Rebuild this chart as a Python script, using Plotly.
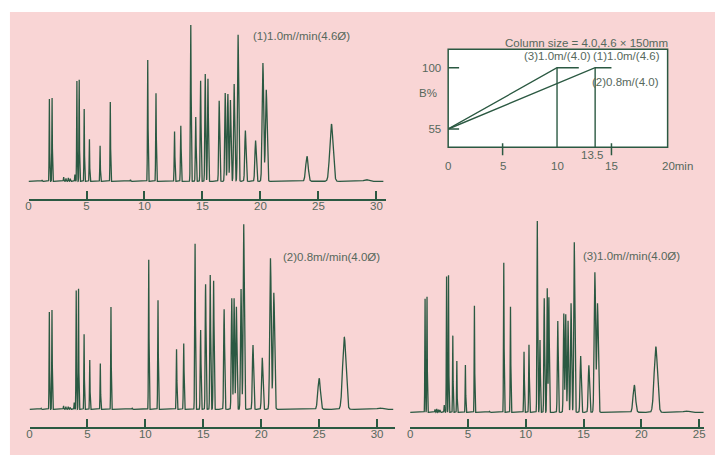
import numpy as np
import plotly.graph_objects as go

W, H = 717, 455

# ---------------- data (peak tables) ----------------
# Chromatogram (1) 1.0 ml/min, 4.6 mm column
c1_rt = [1.17, 1.80, 2.03, 3.03, 3.23, 3.43, 3.60, 4.00, 4.17, 4.37, 4.80, 5.25, 6.17, 7.05, 8.79,
         10.28, 10.99, 12.59, 13.13, 13.99, 14.42, 14.84, 15.24, 15.47, 16.44, 16.96, 17.19, 17.41,
         17.73, 18.07, 18.70, 19.58, 20.21, 20.50, 24.01, 26.12, 29.12]
c1_h = [4, 247, 251, 13, 9, 10, 8, 20, 302, 306, 217, 127, 107, 239, 5,
        364, 265, 150, 167, 470, 193, 302, 322, 308, 242, 265, 262, 244,
        292, 440, 152, 122, 355, 275, 75, 172, 5]

# Chromatogram (2) 0.8 ml/min, 4.0 mm column
c2_rt = [1.00, 1.71, 1.94, 2.94, 3.14, 3.34, 3.51, 3.86, 4.03, 4.23, 4.71, 5.20, 6.11, 7.03, 8.86,
         10.29, 11.09, 12.69, 13.31, 14.29, 14.77, 15.20, 15.60, 15.89, 16.80, 17.46, 17.66, 17.86,
         18.26, 18.49, 19.29, 20.09, 20.80, 21.09, 25.00, 27.17, 30.23]
c2_h = [3, 293, 298, 10, 8, 8, 6, 20, 358, 363, 226, 148, 138, 308, 3,
        450, 328, 181, 198, 498, 238, 375, 403, 386, 300, 333, 333, 308,
        361, 556, 193, 155, 453, 350, 93, 217, 4]

# Chromatogram (3) 1.0 ml/min, 4.0 mm column
c3_rt = [1.29, 1.46, 2.15, 2.30, 2.45, 2.58, 2.95, 3.15, 3.32, 3.69, 4.04, 4.78, 5.56, 6.87,
         8.10, 8.68, 9.85, 10.28, 11.00, 11.23, 11.60, 11.86, 12.00, 12.77, 13.29, 13.46, 13.66,
         13.92, 14.20, 14.75, 15.46, 15.98, 16.21, 19.39, 21.25, 23.85]
c3_h = [342, 347, 9, 10, 8, 7, 22, 409, 411, 231, 154, 142, 320, 3,
        449, 317, 182, 203, 574, 217, 342, 372, 345, 274, 297, 294, 275,
        327, 510, 169, 141, 420, 327, 82, 197, 4]

c1_ticks = [0, 5, 10, 15, 20, 25, 30]
c2_ticks = [0, 5, 10, 15, 20, 25, 30]
c3_ticks = [0, 5, 10, 15, 20, 25]

c1_label = "(1)1.0m//min(4.6Ø)"
c2_label = "(2)0.8m//min(4.0Ø)"
c3_label = "(3)1.0m//min(4.0Ø)"

# Gradient program (inset): time (min) vs B%
g3_t = [0, 10, 12]
g3_b = [55, 100, 100]
g12_t = [0, 13.5, 15]
g12_b = [55, 100, 100]
grad_yticks = [55, 100]
grad_xticks = [0, 5, 10, 15, 20]
grad_xtext = ["0", "5", "10", "15", "20min"]
grad_xmarks = [5, 15]

# ---------------- styling ----------------
LINE = "#2b5942"
TEXT = "#56685c"
PINK = "#f9d5d5"
FONT = "Liberation Sans, Arial, sans-serif"


def trace_of(rt, h, t_end):
    """Render a peak table as a chromatogram trace (Gaussian peaks)."""
    rt = np.asarray(rt, float)
    h = np.asarray(h, float)
    t_last = rt[h > 50].max()
    sig = 0.022 + 0.12 * (rt / t_last) ** 4
    t = np.arange(0.0, t_end, 0.004)
    y = np.zeros_like(t)
    for r, hh, s in zip(rt, h, sig):
        y += hh * np.exp(-0.5 * ((t - r) / s) ** 2)
    return t, y


def px_x(p):
    return p / W


def px_y(p):
    return 1 - p / H


fig = go.Figure()

charts = [
    dict(rt=c1_rt, h=c1_h, end=30.6, ax="x", ay="y"),
    dict(rt=c2_rt, h=c2_h, end=31.4, ax="x2", ay="y2"),
    dict(rt=c3_rt, h=c3_h, end=25.4, ax="x3", ay="y3"),
]
for c in charts:
    t, y = trace_of(c["rt"], c["h"], c["end"])
    fig.add_trace(go.Scatter(x=t, y=y, mode="lines", xaxis=c["ax"], yaxis=c["ay"],
                             line=dict(color=LINE, width=1.3), hoverinfo="skip",
                             showlegend=False))

# inset gradient lines
y4_rng = [41.57, 113.5]
fig.add_trace(go.Scatter(x=g3_t, y=g3_b, mode="lines", xaxis="x4", yaxis="y4",
                         line=dict(color=LINE, width=1.4), showlegend=False, hoverinfo="skip"))
fig.add_trace(go.Scatter(x=g12_t, y=g12_b, mode="lines", xaxis="x4", yaxis="y4",
                         line=dict(color=LINE, width=1.4), showlegend=False, hoverinfo="skip"))
for tt in (g3_t[1], g12_t[1]):
    fig.add_trace(go.Scatter(x=[tt, tt], y=[100, y4_rng[0]], mode="lines", xaxis="x4", yaxis="y4",
                             line=dict(color=LINE, width=1.4), showlegend=False, hoverinfo="skip"))

xax_common = dict(showline=True, linecolor=LINE, linewidth=1.5, ticks="inside", ticklen=9,
                  tickwidth=1.5, tickcolor=LINE, showgrid=False, zeroline=False,
                  ticklabelstandoff=-5,
                  tickfont=dict(family=FONT, size=11.5, color=TEXT), fixedrange=True)
yax_hidden = dict(visible=False, showgrid=False, zeroline=False, fixedrange=True)

fig.update_layout(
    width=W, height=H, margin=dict(l=0, r=0, t=0, b=0), autosize=False,
    paper_bgcolor="white", plot_bgcolor="rgba(0,0,0,0)",
    font=dict(family=FONT, size=11, color=TEXT),
    xaxis=dict(domain=[px_x(25.7), px_x(385.4)], range=[0, 30.8], anchor="y",
               tickvals=c1_ticks, **xax_common),
    yaxis=dict(domain=[px_y(199.3), px_y(20)], range=[-54, 484], anchor="x", **yax_hidden),
    xaxis2=dict(domain=[px_x(26.7), px_x(395)], range=[0, 31.57], anchor="y2",
                tickvals=c2_ticks, **xax_common),
    yaxis2=dict(domain=[px_y(427.3), px_y(215)], range=[-54, 583], anchor="x2", **yax_hidden),
    xaxis3=dict(domain=[px_x(410), px_x(705.7)], range=[0, 25.4], anchor="y3",
                tickvals=c3_ticks, **xax_common),
    yaxis3=dict(domain=[px_y(427.3), px_y(215)], range=[-45, 592], anchor="x3", **yax_hidden),
    xaxis4=dict(domain=[px_x(448.3), px_x(669.3)], range=[0, 20.16], anchor="y4",
                showline=False, showgrid=False, zeroline=False, showticklabels=False,
                ticks="", fixedrange=True),
    yaxis4=dict(domain=[px_y(147.3), px_y(49.3)], range=y4_rng, anchor="x4",
                showline=False, showgrid=False, zeroline=False, tickvals=grad_yticks,
                ticks="", ticklabelstandoff=6,
                tickfont=dict(family=FONT, size=11.5, color=TEXT), fixedrange=True),
)

shapes = [
    dict(type="rect", xref="paper", yref="paper", x0=px_x(7), x1=1, y0=0, y1=px_y(12),
         fillcolor=PINK, line=dict(width=0), layer="below"),
    dict(type="rect", xref="x4 domain", yref="y4 domain", x0=0, x1=1, y0=0, y1=1,
         fillcolor="white", line=dict(color=LINE, width=1.5), layer="below"),
]
for v in grad_xmarks:
    shapes.append(dict(type="line", xref="x4", yref="y4 domain", x0=v, x1=v,
                       y0=-8 / 98, y1=4 / 98, line=dict(color=LINE, width=1.5)))
for v in grad_yticks:
    shapes.append(dict(type="line", xref="x4 domain", yref="y4", x0=0, x1=11 / 221,
                       y0=v, y1=v, line=dict(color=LINE, width=1.5)))
fig.update_layout(shapes=shapes)

ann = []


def A(text, x, y, xref="paper", yref="paper", xanchor="center", xshift=0, size=11.5):
    ann.append(dict(text=text, x=x, y=y, xref=xref, yref=yref, xanchor=xanchor,
                    yanchor="middle", showarrow=False, xshift=xshift,
                    font=dict(family=FONT, size=size, color=TEXT)))


A(c1_label, px_x(300.3), px_y(35.7))
A(c2_label, px_x(331), px_y(256.7))
A(c3_label, px_x(633), px_y(256))
A("Column size = 4.0,4.6 × 150mm", px_x(588), px_y(42.7))
A("(3)1.0m/(4.0)", px_x(558), px_y(56))
A("(1)1.0m/(4.6)", px_x(628), px_y(56))
A("(2)0.8m/(4.0)", px_x(627), px_y(81.7))
A("B%", px_x(428), px_y(92.7))
A("13.5", g12_t[1], px_y(155), xref="x4", xshift=-3)
for v, s in zip(grad_xticks, grad_xtext):
    if s.endswith("min"):
        A(s, v, px_y(166), xref="x4", xanchor="left", xshift=-6)
    else:
        A(s, v, px_y(166), xref="x4")
fig.update_layout(annotations=ann)

fig.write_html("out.html", config={"displayModeBar": False},
               post_script="document.body.style.margin='0';document.body.style.padding='0';"
                           "document.body.style.overflow='hidden';")
